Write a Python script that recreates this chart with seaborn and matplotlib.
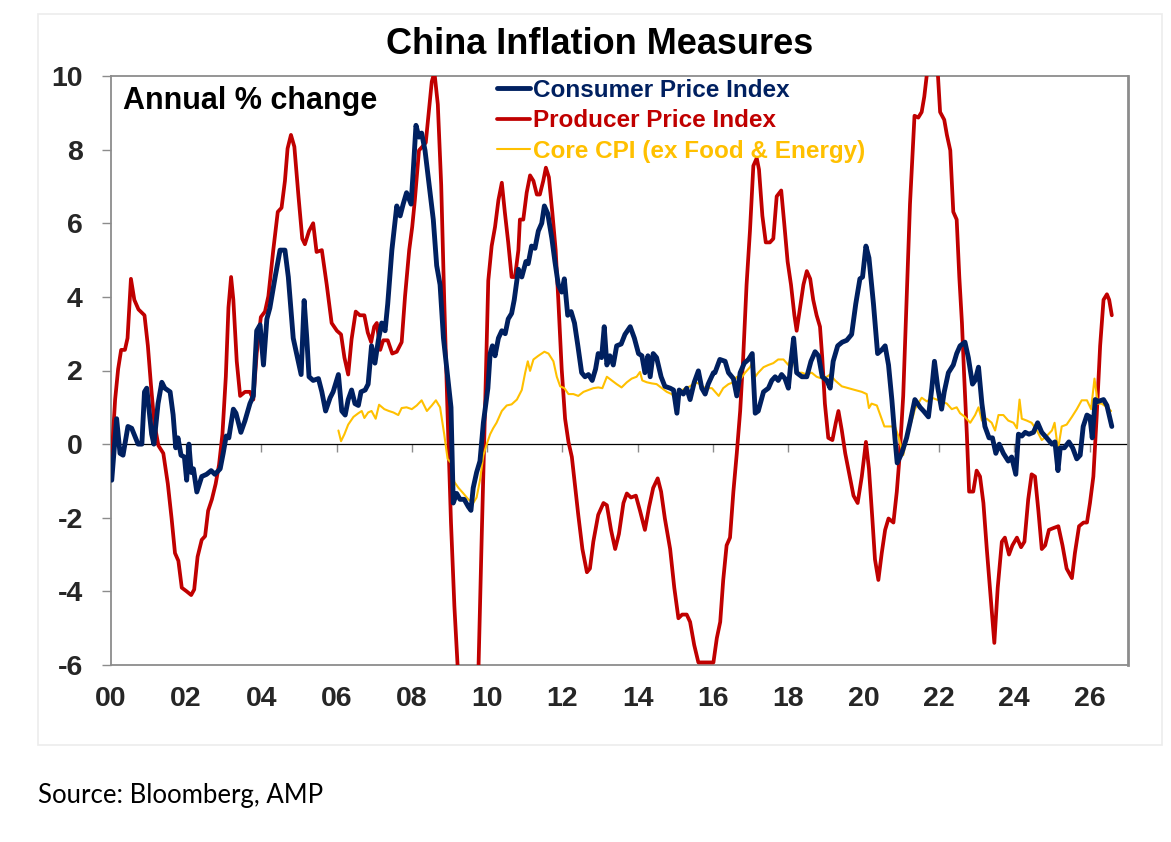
import numpy as np
import pandas as pd
import matplotlib
matplotlib.use("Agg")
import matplotlib.pyplot as plt
import seaborn as sns
from matplotlib.lines import Line2D
from matplotlib.patches import Rectangle

# ---------------- data (years since 2000, annual % change) ----------------
cpi_x = [0.03,0.16,0.25,0.33,0.46,0.56,0.73,0.83,0.90,0.96,1.09,1.15,1.26,1.36,1.44,1.58,1.66,1.73,1.79,1.87,
         1.96,2.02,2.08,2.14,2.20,2.29,2.42,2.55,2.67,2.77,2.91,2.99,3.07,3.14,3.26,3.33,3.46,3.57,3.70,3.79,
         3.88,3.97,4.06,4.15,4.23,4.37,4.50,4.63,4.72,4.85,4.94,5.06,5.14,5.21,5.27,5.38,5.52,5.61,5.71,5.83,
         5.91,6.05,6.14,6.23,6.31,6.40,6.49,6.58,6.65,6.76,6.84,6.93,7.02,7.11,7.20,7.29,7.36,7.47,7.60,7.69,
         7.77,7.86,7.98,8.04,8.11,8.19,8.26,8.35,8.46,8.57,8.66,8.75,8.84,8.93,9.04,9.10,9.19,9.28,9.39,9.50,
         9.57,9.63,9.72,9.81,9.90,10.02,10.08,10.14,10.21,10.30,10.39,10.48,10.56,10.65,10.72,10.83,10.92,11.03,11.09,11.18,
         11.27,11.36,11.45,11.52,11.61,11.72,11.80,11.89,11.98,12.05,12.14,12.23,12.32,12.41,12.51,12.60,12.69,12.79,12.88,12.95,
         13.04,13.11,13.18,13.26,13.35,13.44,13.56,13.66,13.80,13.91,14.02,14.11,14.19,14.27,14.33,14.41,14.50,14.62,14.72,14.86,
         14.95,15.04,15.10,15.21,15.30,15.39,15.50,15.61,15.70,15.79,15.87,16.01,16.05,16.18,16.32,16.41,16.54,16.63,16.72,16.83,
         16.94,17.04,17.12,17.20,17.34,17.47,17.56,17.65,17.73,17.82,17.91,18.00,18.07,18.14,18.22,18.36,18.49,18.60,18.71,18.80,
         18.90,19.02,19.11,19.19,19.31,19.43,19.55,19.68,19.79,19.90,19.97,20.06,20.14,20.26,20.37,20.48,20.57,20.66,20.75,20.83,
         20.89,21.01,21.14,21.23,21.36,21.50,21.59,21.72,21.81,21.88,21.97,22.07,22.14,22.25,22.38,22.47,22.56,22.69,22.78,22.89,
         22.96,23.05,23.14,23.22,23.33,23.42,23.51,23.60,23.71,23.84,23.93,24.04,24.11,24.20,24.29,24.39,24.51,24.62,24.73,24.86,
         25.00,25.08,25.16,25.22,25.33,25.45,25.55,25.66,25.75,25.83,25.93,26.01,26.07,26.15,26.23,26.37,26.46,26.52,26.59]
cpi_y = [-0.98,0.69,-0.25,-0.30,0.48,0.43,0.00,0.00,1.42,1.52,0.27,0.00,1.10,1.68,1.52,1.42,0.80,-0.10,0.17,-0.30,
         -0.35,-0.98,0.00,-0.77,-0.67,-1.30,-0.88,-0.82,-0.72,-0.82,-0.67,-0.25,0.22,0.17,0.95,0.84,0.32,0.64,1.10,1.31,
         3.08,3.24,2.15,3.40,3.70,4.54,5.27,5.27,4.54,2.88,2.46,1.89,3.90,2.88,1.83,1.73,1.78,1.42,0.90,1.26,
         1.42,1.89,0.90,0.79,1.21,1.47,1.10,1.05,1.42,1.47,1.63,2.67,2.20,2.82,3.29,3.08,3.81,5.27,6.47,6.20,
         6.52,6.83,6.52,7.46,8.66,8.34,8.45,7.98,7.04,6.10,4.85,4.33,2.88,2.04,1.00,-1.60,-1.34,-1.50,-1.50,-1.70,
         -1.80,-1.19,-0.77,-0.46,0.58,1.52,2.46,2.67,2.40,2.88,3.08,3.00,3.40,3.55,3.92,4.75,4.54,4.96,4.90,5.38,
         5.32,5.79,6.00,6.47,6.26,5.58,4.96,4.33,4.13,4.49,3.50,3.60,3.29,2.67,1.94,1.83,1.89,1.73,2.04,2.46,
         2.35,3.19,2.15,2.40,2.15,2.67,2.72,2.98,3.19,2.88,2.46,2.40,1.94,2.40,1.83,2.46,2.35,1.83,1.57,1.52,
         1.47,0.84,1.47,1.36,1.52,1.21,1.68,1.99,1.52,1.36,1.63,1.94,1.94,2.30,2.25,1.94,1.78,1.31,1.94,2.20,
         2.30,2.46,0.84,0.90,1.42,1.52,1.73,1.83,1.73,1.89,1.78,1.52,2.25,2.88,1.94,1.83,1.83,2.25,2.51,2.40,
         1.83,1.73,1.52,2.25,2.67,2.77,2.82,2.98,3.81,4.49,4.54,5.38,5.06,3.81,2.46,2.56,2.67,2.15,1.19,0.17,
         -0.51,-0.25,0.17,0.58,1.21,1.00,0.90,0.74,1.52,2.25,1.52,0.95,1.42,1.94,2.15,2.46,2.67,2.77,2.35,1.63,
         1.73,2.09,1.10,0.48,0.17,0.17,-0.25,0.00,-0.25,-0.46,-0.35,-0.82,0.27,0.22,0.32,0.27,0.32,0.58,0.32,0.17,
         0.00,0.06,-0.72,-0.10,-0.10,0.06,-0.10,-0.40,-0.30,0.48,0.79,0.74,0.17,1.21,1.16,1.21,1.05,0.79,0.48]

ppi_x = [0.01,0.12,0.20,0.28,0.38,0.45,0.54,0.63,0.74,0.90,0.99,1.07,1.16,1.27,1.40,1.52,1.62,1.71,1.80,1.89,
         2.02,2.14,2.22,2.31,2.42,2.51,2.59,2.69,2.79,2.88,2.97,3.06,3.13,3.20,3.26,3.35,3.44,3.57,3.70,3.79,
         3.88,3.99,4.10,4.19,4.32,4.44,4.54,4.63,4.70,4.79,4.88,4.99,5.09,5.16,5.27,5.38,5.47,5.61,5.74,5.87,
         6.01,6.12,6.21,6.31,6.40,6.51,6.62,6.74,6.83,6.92,7.00,7.07,7.16,7.24,7.36,7.48,7.60,7.73,7.82,7.93,
         8.01,8.08,8.19,8.28,8.37,8.46,8.53,8.60,8.69,8.78,8.86,8.95,9.04,9.13,9.22,9.30,9.40,9.50,9.60,9.68,
         9.77,9.86,9.94,10.03,10.12,10.21,10.30,10.39,10.47,10.56,10.65,10.74,10.83,10.87,10.96,11.05,11.14,11.23,11.32,11.40,
         11.49,11.56,11.64,11.73,11.82,11.89,11.98,12.07,12.16,12.25,12.33,12.42,12.53,12.65,12.73,12.82,12.95,13.09,13.18,13.29,
         13.40,13.50,13.62,13.71,13.82,13.95,14.06,14.19,14.30,14.41,14.53,14.62,14.72,14.86,14.97,15.08,15.18,15.30,15.39,15.50,
         15.61,15.92,16.01,16.10,16.19,16.27,16.36,16.45,16.54,16.63,16.72,16.80,16.89,16.98,17.07,17.16,17.22,17.31,17.40,17.51,
         17.60,17.69,17.81,17.89,17.98,18.07,18.16,18.22,18.31,18.40,18.49,18.58,18.66,18.75,18.84,18.90,18.97,19.06,19.17,19.26,
         19.33,19.42,19.51,19.61,19.73,19.84,19.95,20.06,20.14,20.23,20.30,20.39,20.48,20.57,20.66,20.79,20.88,20.96,21.05,21.14,
         21.23,21.35,21.45,21.54,21.61,21.68,21.76,21.86,21.97,22.03,22.14,22.21,22.30,22.38,22.47,22.54,22.61,22.67,22.74,22.80,
         22.91,23.00,23.09,23.18,23.27,23.36,23.47,23.56,23.67,23.75,23.86,23.95,24.07,24.18,24.27,24.37,24.46,24.55,24.64,24.73,
         24.82,24.92,25.04,25.17,25.28,25.39,25.53,25.61,25.72,25.84,25.93,26.01,26.10,26.19,26.28,26.37,26.46,26.52,26.59]
ppi_y = [-0.67,1.21,2.04,2.56,2.56,2.88,4.49,3.92,3.66,3.50,2.67,1.63,0.58,-0.04,-0.25,-1.08,-2.02,-2.96,-3.17,-3.90,
         -4.00,-4.10,-3.95,-3.06,-2.60,-2.50,-1.81,-1.50,-1.08,-0.56,0.27,1.83,3.71,4.54,3.92,2.25,1.31,1.42,1.42,1.21,
         2.46,3.45,3.60,4.02,5.27,6.31,6.42,7.15,8.03,8.40,8.08,6.73,5.58,5.43,5.79,6.00,5.22,5.27,4.33,3.29,
         3.08,2.98,2.35,1.89,2.85,3.60,3.50,3.50,3.03,2.77,3.19,3.29,2.56,2.82,2.82,2.46,2.51,2.77,4.02,5.27,
         5.90,6.63,7.98,8.08,8.19,9.13,9.85,10.10,9.23,7.04,3.92,0.79,-2.13,-4.40,-6.10,-7.00,-7.80,-8.20,-7.90,-7.00,
         -6.10,-2.35,0.79,4.44,5.38,5.90,6.63,7.10,6.30,5.48,4.54,4.54,5.27,6.10,6.10,6.83,7.30,7.15,6.78,6.78,
         7.15,7.51,7.25,6.31,5.27,3.92,2.04,0.69,0.06,-0.35,-1.08,-1.92,-2.85,-3.48,-3.38,-2.65,-1.92,-1.60,-1.66,-2.33,
         -2.85,-2.44,-1.60,-1.34,-1.45,-1.40,-1.81,-2.33,-1.71,-1.19,-0.93,-1.29,-2.02,-2.85,-3.90,-4.73,-4.63,-4.63,-4.83,-5.46,
         -5.93,-5.93,-5.93,-5.27,-4.83,-3.69,-2.75,-2.54,-1.29,-0.25,0.90,2.35,4.33,5.79,7.56,7.77,7.46,6.20,5.48,5.48,
         5.58,6.73,6.89,6.00,4.96,4.33,3.50,3.08,3.71,4.33,4.70,4.49,3.92,3.50,3.19,2.35,1.10,0.17,0.11,0.58,
         0.90,0.37,-0.25,-0.77,-1.40,-1.60,-0.88,0.06,-0.67,-2.02,-3.13,-3.69,-2.96,-2.33,-2.02,-2.13,-1.29,-0.25,1.31,3.92,
         6.52,8.92,8.87,9.02,9.44,10.06,13.50,12.90,10.06,9.02,8.81,8.40,7.98,6.31,6.10,4.54,3.29,1.83,0.27,-1.29,
         -1.29,-0.72,-0.88,-1.60,-2.85,-4.00,-5.40,-3.90,-2.65,-2.54,-3.00,-2.75,-2.54,-2.80,-2.65,-1.50,-0.82,-0.88,-1.81,-2.85,
         -2.75,-2.33,-2.28,-2.23,-2.75,-3.38,-3.64,-2.96,-2.23,-2.13,-2.13,-1.60,-0.88,0.79,2.67,3.92,4.07,3.92,3.50]

core_x = [6.05,6.12,6.21,6.31,6.45,6.58,6.67,6.74,6.84,6.93,7.04,7.13,7.27,7.39,7.51,7.64,7.73,7.86,8.00,8.13,
          8.26,8.40,8.53,8.64,8.75,8.86,8.95,9.04,9.13,9.24,9.37,9.50,9.63,9.72,9.81,9.90,9.99,10.08,10.16,10.25,
          10.39,10.52,10.65,10.79,10.92,11.01,11.08,11.14,11.23,11.36,11.45,11.52,11.63,11.76,11.85,11.94,12.05,12.16,12.29,12.42,
          12.56,12.69,12.82,12.95,13.06,13.18,13.31,13.44,13.57,13.71,13.84,13.97,14.06,14.12,14.24,14.37,14.50,14.64,14.77,14.90,
          15.04,15.12,15.26,15.39,15.52,15.66,15.79,15.97,16.15,16.27,16.41,16.54,16.63,16.74,16.85,16.98,17.04,17.12,17.20,17.34,
          17.47,17.60,17.73,17.87,18.00,18.11,18.20,18.36,18.49,18.62,18.75,18.89,19.02,19.11,19.24,19.42,19.59,19.77,19.95,20.08,
          20.14,20.21,20.35,20.44,20.55,20.70,20.83,20.92,21.05,21.17,21.32,21.36,21.54,21.68,21.81,21.94,22.07,22.21,22.34,22.47,
          22.56,22.69,22.83,22.96,23.05,23.14,23.27,23.40,23.49,23.58,23.71,23.84,23.98,24.07,24.14,24.20,24.33,24.46,24.60,24.73,
          24.86,25.00,25.07,25.16,25.26,25.39,25.53,25.66,25.79,25.93,26.04,26.13,26.22,26.32,26.46,26.57]
core_y = [0.37,0.08,0.27,0.53,0.74,0.84,0.90,0.71,0.86,0.90,0.69,1.07,0.95,0.90,0.86,0.79,0.98,1.00,0.95,1.05,
          1.19,0.90,1.05,1.19,1.00,0.27,-0.40,-0.51,-1.03,-1.19,-1.34,-1.50,-1.60,-1.45,-0.98,-0.30,0.00,0.27,0.43,0.58,
          0.90,1.05,1.08,1.21,1.47,1.94,2.25,1.99,2.30,2.40,2.46,2.51,2.46,2.25,1.83,1.57,1.52,1.36,1.36,1.31,
          1.42,1.47,1.52,1.54,1.52,1.83,1.73,1.63,1.54,1.68,1.78,1.83,1.96,1.73,1.68,1.65,1.63,1.52,1.42,1.36,
          1.21,1.42,1.52,1.57,1.68,1.63,1.52,1.52,1.31,1.52,1.63,1.68,1.83,1.78,1.94,2.09,2.20,1.83,1.94,2.09,
          2.15,2.20,2.30,2.30,2.15,2.46,1.94,1.94,1.89,1.94,1.83,1.78,1.83,1.89,1.73,1.57,1.52,1.47,1.42,1.36,
          0.98,1.10,1.05,0.79,0.48,0.48,0.48,0.22,-0.30,0.27,0.79,0.95,1.26,1.16,1.26,1.21,1.16,1.10,0.95,1.00,
          0.84,0.74,0.58,0.79,1.00,0.64,0.69,0.58,0.37,0.79,0.79,0.64,0.58,0.43,1.21,0.69,0.64,0.58,0.37,0.11,
          0.22,0.37,0.58,-0.15,0.48,0.53,0.74,0.95,1.19,1.19,0.95,1.78,1.10,1.10,1.00,0.90]

series_names = ["Consumer Price Index", "Producer Price Index", "Core CPI (ex Food & Energy)"]
x_tick_vals = list(range(0, 27, 2))
x_tick_labels = ["00", "02", "04", "06", "08", "10", "12", "14", "16", "18", "20", "22", "24", "26"]
y_tick_vals = [10, 8, 6, 4, 2, 0, -2, -4, -6]

# ---------------- styling ----------------
NAVY = "#002060"
RED = "#C00000"
AMBER = "#FFC000"
GREY = "#8c8c8c"

sns.set_theme(style="white")
plt.rcParams["font.family"] = ["Liberation Sans", "DejaVu Sans"]

W, H = 1171, 842
fig = plt.figure(figsize=(W / 100, H / 100), dpi=100)
ax = fig.add_axes([110.6 / W, 1 - 665 / H, (1128 - 110.6) / W, (665 - 76) / H])

# faint outer frame of the embedded chart
fig.patches.append(Rectangle((38 / W, 1 - 745 / H), (1162 - 38) / W, (745 - 14) / H,
                             transform=fig.transFigure, fill=False, edgecolor="#ececec", lw=1.2))

df_cpi = pd.DataFrame({"x": cpi_x, "v": cpi_y})
df_ppi = pd.DataFrame({"x": ppi_x, "v": ppi_y})
df_core = pd.DataFrame({"x": core_x, "v": core_y})

ax.axhline(0, color="black", lw=0.9, zorder=1)
sns.lineplot(data=df_ppi, x="x", y="v", ax=ax, color=RED, lw=2.7, estimator=None, sort=False, zorder=3)
sns.lineplot(data=df_core, x="x", y="v", ax=ax, color=AMBER, lw=1.5, estimator=None, sort=False, zorder=4)
sns.lineplot(data=df_cpi, x="x", y="v", ax=ax, color=NAVY, lw=3.5, estimator=None, sort=False, zorder=5)

ax.set_xlim(0, 27.02)
ax.set_ylim(-6, 10)
ax.set_xlabel("")
ax.set_ylabel("")
ax.set_xticks(x_tick_vals)
ax.set_xticklabels(x_tick_labels)
ax.set_yticks(y_tick_vals)
ax.set_yticklabels([str(v) for v in y_tick_vals])
ax.tick_params(axis="x", length=0, pad=15, labelsize=20.5)
ax.tick_params(axis="y", length=6.5, width=1, color=GREY, direction="out", pad=13.5, labelsize=20.5, left=True)
for lab in ax.get_xticklabels() + ax.get_yticklabels():
    lab.set_fontweight("bold")
for side in ["left", "right", "top", "bottom"]:
    ax.spines[side].set_visible(True)
    ax.spines[side].set_color(GREY)
    ax.spines[side].set_linewidth(1.3)
ax.spines["right"].set_linewidth(2.0)

# tick marks on the zero line
sec = ax.secondary_xaxis(6 / 16)
sec.set_xticks(x_tick_vals)
sec.tick_params(axis="x", direction="out", length=6, width=1, color=GREY, labelbottom=False, labeltop=False,
                bottom=True, top=False)
sec.spines["bottom"].set_visible(False)
sec.spines["top"].set_visible(False)
sec.xaxis.set_ticks_position("bottom")
sec.set_xticklabels([])

# texts
fig.text(600 / W, 1 - 45 / H, "China Inflation Measures", ha="center", va="center",
         fontsize=26, fontweight="bold", color="black")
ax.text(0.012, 0.958, "Annual % change", transform=ax.transAxes, ha="left", va="center",
        fontsize=22, fontweight="bold", color="black")
fig.text(38 / W, 1 - 795 / H, "Source: Bloomberg, AMP", ha="left", va="center",
         fontsize=18.5, color="black", family=["Lato", "DejaVu Sans"])

handles = [Line2D([], [], color=NAVY, lw=3.5), Line2D([], [], color=RED, lw=2.7), Line2D([], [], color=AMBER, lw=1.5)]
leg = ax.legend(handles, series_names, loc="upper left", bbox_to_anchor=((497 - 110.6) / 1017.4, 0.995),
                frameon=False, handlelength=1.35, handletextpad=0.12, labelspacing=0.3, borderpad=0.0,
                borderaxespad=0.0, prop={"size": 17.5, "weight": "bold"})
for txt, c in zip(leg.get_texts(), [NAVY, RED, AMBER]):
    txt.set_color(c)

fig.savefig("out.png", dpi=100, facecolor="white")
